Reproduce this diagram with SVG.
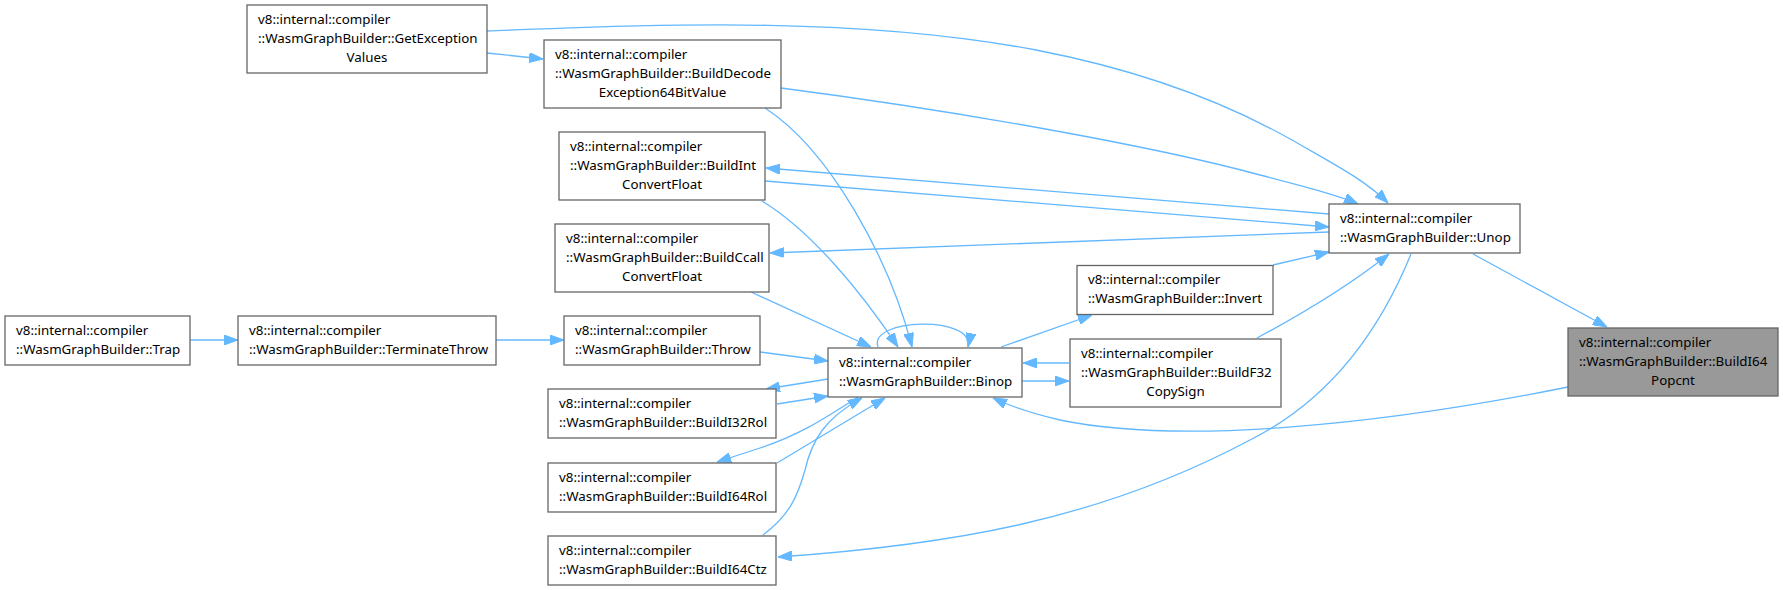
<svg xmlns="http://www.w3.org/2000/svg" width="1783" height="590" viewBox="0 0 1783 590">
<style>
.node rect{fill:#ffffff;stroke:#666666;stroke-width:1.3}
.node.cur rect{fill:#999999}
text{font-family:"Noto Sans","Liberation Sans",sans-serif;font-size:13.33px;fill:#000000}
.c{text-anchor:middle}
.edge path{fill:none;stroke:#63b8ff;stroke-width:1.3}
</style>
<defs>
<marker id="ah" viewBox="0 0 14 10" refX="14" refY="5" markerWidth="14" markerHeight="10" markerUnits="userSpaceOnUse" orient="auto">
<path d="M0,0 L14,5 L0,10 z" fill="#63b8ff" stroke="#63b8ff" stroke-width="1"/>
</marker>
</defs>
<rect width="1783" height="590" fill="#ffffff"/>
<g id="edges" class="edge">
<path d="M487,53 L543,59" marker-end="url(#ah)"/>
<path d="M487,31 C650,25 850,15 1036,50 C1150,72 1230,105 1292,140 C1335,165 1365,180 1388,203" marker-end="url(#ah)"/>
<path d="M781,88 C950,110 1150,145 1260,175 C1310,188 1340,196 1358,204" marker-end="url(#ah)"/>
<path d="M1329,214 L766,168" marker-end="url(#ah)"/>
<path d="M765,181 L1329,227" marker-end="url(#ah)"/>
<path d="M1329,232 L770,253" marker-end="url(#ah)"/>
<path d="M1273,265 L1329,252" marker-end="url(#ah)"/>
<path d="M1257,338 C1300,315 1350,285 1389,254" marker-end="url(#ah)"/>
<path d="M1411,254 C1380,330 1330,400 1250,440 C1100,520 950,545 778,557" marker-end="url(#ah)"/>
<path d="M1473,254 L1607,327" marker-end="url(#ah)"/>
<path d="M1568,387 C1380,425 1180,445 1060,420 C1030,413 1010,406 993,398" marker-end="url(#ah)"/>
<path d="M878,347 C868,318 975,315 968,347" marker-end="url(#ah)"/>
<path d="M1001,347 L1092,315" marker-end="url(#ah)"/>
<path d="M1022,381 L1069,381" marker-end="url(#ah)"/>
<path d="M1069,363 L1023,363" marker-end="url(#ah)"/>
<path d="M765,108 C830,150 890,260 912,347" marker-end="url(#ah)"/>
<path d="M762,201 C810,230 860,290 898,347" marker-end="url(#ah)"/>
<path d="M751,292 L871,347" marker-end="url(#ah)"/>
<path d="M760,352 L828,361" marker-end="url(#ah)"/>
<path d="M828,379 L766,389" marker-end="url(#ah)"/>
<path d="M777,404 L828,396" marker-end="url(#ah)"/>
<path d="M858,397 C825,418 800,435 760,448 L717,462" marker-end="url(#ah)"/>
<path d="M777,463 L885,398" marker-end="url(#ah)"/>
<path d="M763,535 C790,515 798,495 805,470 C812,440 825,418 862,398" marker-end="url(#ah)"/>
<path d="M190,340 L238,340" marker-end="url(#ah)"/>
<path d="M496,340 L564,340" marker-end="url(#ah)"/>
</g>
<g id="n_getexc" class="node">
<rect x="247" y="5" width="240" height="68"/>
<text x="258" y="23.5">v8::internal::compiler</text>
<text x="258" y="42.5">::WasmGraphBuilder::GetException</text>
<text class="c" x="367" y="61.5">Values</text>
</g>
<g id="n_decode" class="node">
<rect x="544" y="40" width="237" height="68"/>
<text x="555" y="58.5">v8::internal::compiler</text>
<text x="555" y="77.5">::WasmGraphBuilder::BuildDecode</text>
<text class="c" x="662.5" y="96.5">Exception64BitValue</text>
</g>
<g id="n_int" class="node">
<rect x="559" y="132" width="206" height="68"/>
<text x="570" y="150.5">v8::internal::compiler</text>
<text x="570" y="169.5">::WasmGraphBuilder::BuildInt</text>
<text class="c" x="662" y="188.5">ConvertFloat</text>
</g>
<g id="n_ccall" class="node">
<rect x="555" y="224" width="214" height="68"/>
<text x="566" y="242.5">v8::internal::compiler</text>
<text x="566" y="261.5">::WasmGraphBuilder::BuildCcall</text>
<text class="c" x="662" y="280.5">ConvertFloat</text>
</g>
<g id="n_trap" class="node">
<rect x="5" y="316" width="185" height="49"/>
<text x="16" y="334.5">v8::internal::compiler</text>
<text x="16" y="353.5">::WasmGraphBuilder::Trap</text>
</g>
<g id="n_terminate" class="node">
<rect x="238" y="316" width="258" height="49"/>
<text x="249" y="334.5">v8::internal::compiler</text>
<text x="249" y="353.5">::WasmGraphBuilder::TerminateThrow</text>
</g>
<g id="n_throw" class="node">
<rect x="564" y="316" width="196" height="49"/>
<text x="575" y="334.5">v8::internal::compiler</text>
<text x="575" y="353.5">::WasmGraphBuilder::Throw</text>
</g>
<g id="n_i32rol" class="node">
<rect x="548" y="389" width="228" height="49"/>
<text x="559" y="407.5">v8::internal::compiler</text>
<text x="559" y="426.5">::WasmGraphBuilder::BuildI32Rol</text>
</g>
<g id="n_i64rol" class="node">
<rect x="548" y="463" width="228" height="49"/>
<text x="559" y="481.5">v8::internal::compiler</text>
<text x="559" y="500.5">::WasmGraphBuilder::BuildI64Rol</text>
</g>
<g id="n_i64ctz" class="node">
<rect x="548" y="536" width="228" height="49"/>
<text x="559" y="554.5">v8::internal::compiler</text>
<text x="559" y="573.5">::WasmGraphBuilder::BuildI64Ctz</text>
</g>
<g id="n_binop" class="node">
<rect x="828" y="348" width="194" height="49"/>
<text x="839" y="366.5">v8::internal::compiler</text>
<text x="839" y="385.5">::WasmGraphBuilder::Binop</text>
</g>
<g id="n_invert" class="node">
<rect x="1077" y="265.5" width="196" height="49"/>
<text x="1088" y="284">v8::internal::compiler</text>
<text x="1088" y="303">::WasmGraphBuilder::Invert</text>
</g>
<g id="n_copysign" class="node">
<rect x="1070" y="339" width="211" height="68"/>
<text x="1081" y="357.5">v8::internal::compiler</text>
<text x="1081" y="376.5">::WasmGraphBuilder::BuildF32</text>
<text class="c" x="1175.5" y="395.5">CopySign</text>
</g>
<g id="n_unop" class="node">
<rect x="1329" y="204" width="191" height="49"/>
<text x="1340" y="222.5">v8::internal::compiler</text>
<text x="1340" y="241.5">::WasmGraphBuilder::Unop</text>
</g>
<g id="n_popcnt" class="node cur">
<rect x="1568" y="328" width="210" height="68"/>
<text x="1579" y="346.5">v8::internal::compiler</text>
<text x="1579" y="365.5">::WasmGraphBuilder::BuildI64</text>
<text class="c" x="1673" y="384.5">Popcnt</text>
</g>
</svg>
